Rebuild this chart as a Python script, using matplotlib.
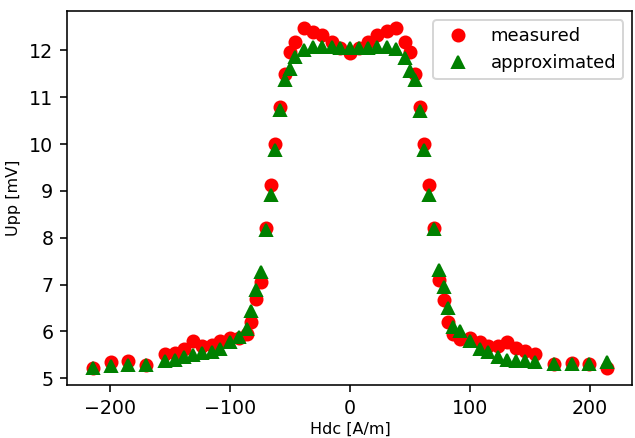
import numpy as np
import matplotlib
matplotlib.use('Agg')
import matplotlib.pyplot as plt

# Hdc [A/m]
hdc = [-214, -199, -185, -170, -154, -146, -138, -131, -123, -115, -108, -100,
       -92, -86, -82, -78, -74, -70, -66, -62, -58, -54, -50, -46,
       -38, -31, -23, -15, -8, 0, 8, 15, 23, 31, 38,
       46, 50, 54, 58, 62, 66, 70, 74, 78, 82, 86, 92,
       100, 108, 115, 123, 131, 138, 146, 154, 170, 185, 199, 214]

# measured Upp [mV]
upp_meas = [5.23, 5.34, 5.36, 5.28, 5.51, 5.55, 5.62, 5.79, 5.68, 5.72, 5.79, 5.85,
            5.85, 5.94, 6.21, 6.70, 7.06, 8.21, 9.13, 10.0, 10.79, 11.5, 11.96, 12.17,
            12.47, 12.40, 12.33, 12.17, 12.05, 11.94, 12.05, 12.18, 12.33, 12.42, 12.48,
            12.19, 11.96, 11.5, 10.79, 10.0, 9.13, 8.21, 7.10, 6.68, 6.20, 5.94, 5.83,
            5.87, 5.77, 5.70, 5.68, 5.77, 5.64, 5.58, 5.51, 5.30, 5.32, 5.30, 5.22]

# approximated Upp [mV]
upp_appr = [5.23, 5.26, 5.28, 5.28, 5.36, 5.40, 5.45, 5.50, 5.53, 5.57, 5.62, 5.78,
            5.88, 6.05, 6.43, 6.88, 7.27, 8.17, 8.91, 9.88, 10.72, 11.36, 11.60, 11.85,
            12.00, 12.07, 12.07, 12.08, 12.05, 12.05, 12.05, 12.05, 12.07, 12.08, 12.02,
            11.83, 11.57, 11.36, 10.70, 9.87, 8.91, 8.18, 7.32, 6.94, 6.50, 6.10, 6.00,
            5.80, 5.62, 5.57, 5.45, 5.40, 5.38, 5.36, 5.34, 5.30, 5.30, 5.30, 5.34]

fig = plt.figure(figsize=(635/144, 438/144), dpi=144)
ax = fig.add_axes([0.106, 0.121, 0.89, 0.854])

ax.plot(hdc, upp_meas, 'ro', label='measured')
ax.plot(hdc, upp_appr, 'g^', label='approximated')
ax.set_xlabel('Hdc [A/m]', fontsize=8, labelpad=2)
ax.set_ylabel('Upp [mV]', fontsize=8)
ax.set_yticks(np.arange(5, 13, 1))
ax.tick_params(labelsize=9.5)
ax.legend(loc='upper right', fontsize=9)

fig.savefig('out.png', dpi=144)
